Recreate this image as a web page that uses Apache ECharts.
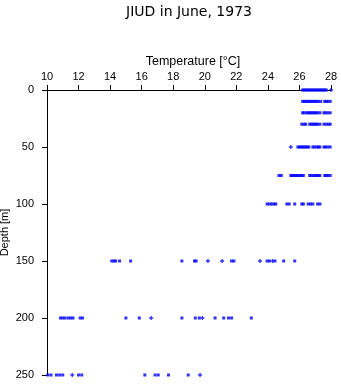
<!DOCTYPE html>
<html>
<head>
<meta charset="utf-8">
<script src="https://cdn.jsdelivr.net/npm/echarts@6/dist/echarts.min.js"></script>
<style>
html,body{margin:0;padding:0;background:#fff;}
#c{width:341px;height:384px;}
</style>
</head>
<body>
<div id="c"></div>
<script>
// Depth levels [m]
const depths = [0, 10, 20, 30, 50, 75, 100, 150, 200, 250];
// Temperatures [°C] drawn as square markers, one array per depth
const sq0 = [26.2, 26.3, 26.4, 26.5, 26.6, 26.7, 26.8, 26.9, 27.0, 27.1, 27.2, 27.3, 27.4, 27.5, 27.6, 27.7];
const sq10 = [26.2, 26.3, 26.4, 26.5, 26.6, 26.7, 26.8, 26.9, 27.0, 27.1, 27.2, 27.35, 27.6, 27.7, 27.8, 27.95];
const sq20 = [26.2, 26.3, 26.45, 26.55, 26.65, 26.75, 26.85, 26.95, 27.05, 27.15, 27.3, 27.55, 27.65, 27.8, 27.95];
const sq30 = [26.15, 26.3, 26.4, 26.65, 26.75, 26.85, 26.95, 27.05, 27.15, 27.3, 27.55, 27.7, 27.85, 27.95];
const sq50 = [25.9, 26.0, 26.1, 26.2, 26.3, 26.4, 26.5, 26.6, 26.85, 26.95, 27.1, 27.2, 27.3, 27.55, 27.65, 27.8, 27.95];
const sq75 = [24.7, 24.85, 25.45, 25.55, 25.65, 25.75, 25.85, 25.95, 26.05, 26.15, 26.25, 26.65, 26.75, 26.9, 27.0, 27.1, 27.2, 27.3, 27.6, 27.7, 27.8, 27.95];
const sq100 = [23.95, 24.1, 24.4, 24.5, 25.2, 25.35, 25.7, 26.15, 26.25, 26.55, 26.7, 26.85, 27.15, 27.3];
const sq150 = [14.1, 14.25, 14.35, 14.6, 15.3, 18.55, 19.35, 19.45, 21.7, 21.85, 23.95, 24.1, 24.45, 25.0, 25.7];
const sq200 = [10.85, 11.0, 11.15, 11.35, 11.5, 11.65, 12.1, 12.25, 15.0, 15.85, 18.55, 19.4, 19.65, 20.65, 21.2, 21.5, 21.7, 22.95];
const sq250 = [10.05, 10.25, 10.6, 10.8, 11.0, 12.0, 12.2, 16.2, 16.85, 17.05, 17.7, 18.95];
// Points drawn as small crosses
const crossTemps  = [28.0, 25.45, 24.25, 20.2, 21.1, 23.5, 24.3, 16.6, 19.85, 11.6, 19.7];
const crossDepths = [0,    50,    100,   150,  150,  150,  150,  200,  200,   250,  250];
// Axis ticks
const xTicks = [10, 12, 14, 16, 18, 20, 22, 24, 26, 28];
const yTicks = [0, 50, 100, 150, 200, 250];

const sqRows = [sq0, sq10, sq20, sq30, sq50, sq75, sq100, sq150, sq200, sq250];
const squareData = [];
sqRows.forEach((row, i) => row.forEach(t => squareData.push([t, depths[i]])));
const crossData = crossTemps.map((t, i) => [t, crossDepths[i]]);

const BLUE = '#0000ff';
const chart = echarts.init(document.getElementById('c'), null, {renderer: 'canvas'});
chart.setOption({
  animation: false,
  backgroundColor: '#ffffff',
  title: {
    text: 'JIUD in June, 1973',
    left: 121,
    top: 0,
    textStyle: {fontFamily: 'DejaVu Sans', fontSize: 14, fontWeight: 'normal', color: '#000'}
  },
  grid: {left: 47, right: 10, top: 90, bottom: 9, containLabel: false, outerBoundsMode: 'none'},
  xAxis: {
    type: 'value',
    position: 'top',
    min: xTicks[0],
    max: xTicks[xTicks.length - 1],
    interval: 2,
    name: 'Temperature [°C]',
    nameLocation: 'middle',
    nameGap: 22,
    nameMoveOverlap: false,
    nameTextStyle: {fontFamily: 'Liberation Sans', fontSize: 12.5, color: '#000', padding: [0, 0, 0, 8]},
    splitLine: {show: false},
    axisLine: {show: true, lineStyle: {color: '#000', width: 1}},
    axisTick: {show: true, length: 5, inside: false, lineStyle: {color: '#000'}},
    axisLabel: {fontFamily: 'Liberation Sans', fontSize: 11, color: '#000', margin: 8}
  },
  yAxis: {
    type: 'value',
    inverse: true,
    min: yTicks[0],
    max: yTicks[yTicks.length - 1],
    interval: 50,
    name: 'Depth [m]',
    nameLocation: 'middle',
    nameGap: 37,
    nameMoveOverlap: false,
    nameTextStyle: {fontFamily: 'Liberation Sans', fontSize: 11, color: '#000'},
    splitLine: {show: false},
    axisLine: {show: true, lineStyle: {color: '#000', width: 1}},
    axisTick: {show: true, length: 5, inside: false, lineStyle: {color: '#000'}},
    axisLabel: {fontFamily: 'Liberation Sans', fontSize: 11, color: '#000', margin: 13}
  },
  series: [
    {
      type: 'scatter',
      data: squareData,
      symbol: 'rect',
      symbolSize: 3,
      itemStyle: {color: BLUE},
      clip: false
    },
    {
      type: 'scatter',
      data: crossData,
      symbol: 'path://M1,0H2V1H3V2H2V3H1V2H0V1H1Z',
      symbolSize: 4,
      itemStyle: {color: BLUE},
      clip: false
    }
  ]
});
</script>
</body>
</html>
